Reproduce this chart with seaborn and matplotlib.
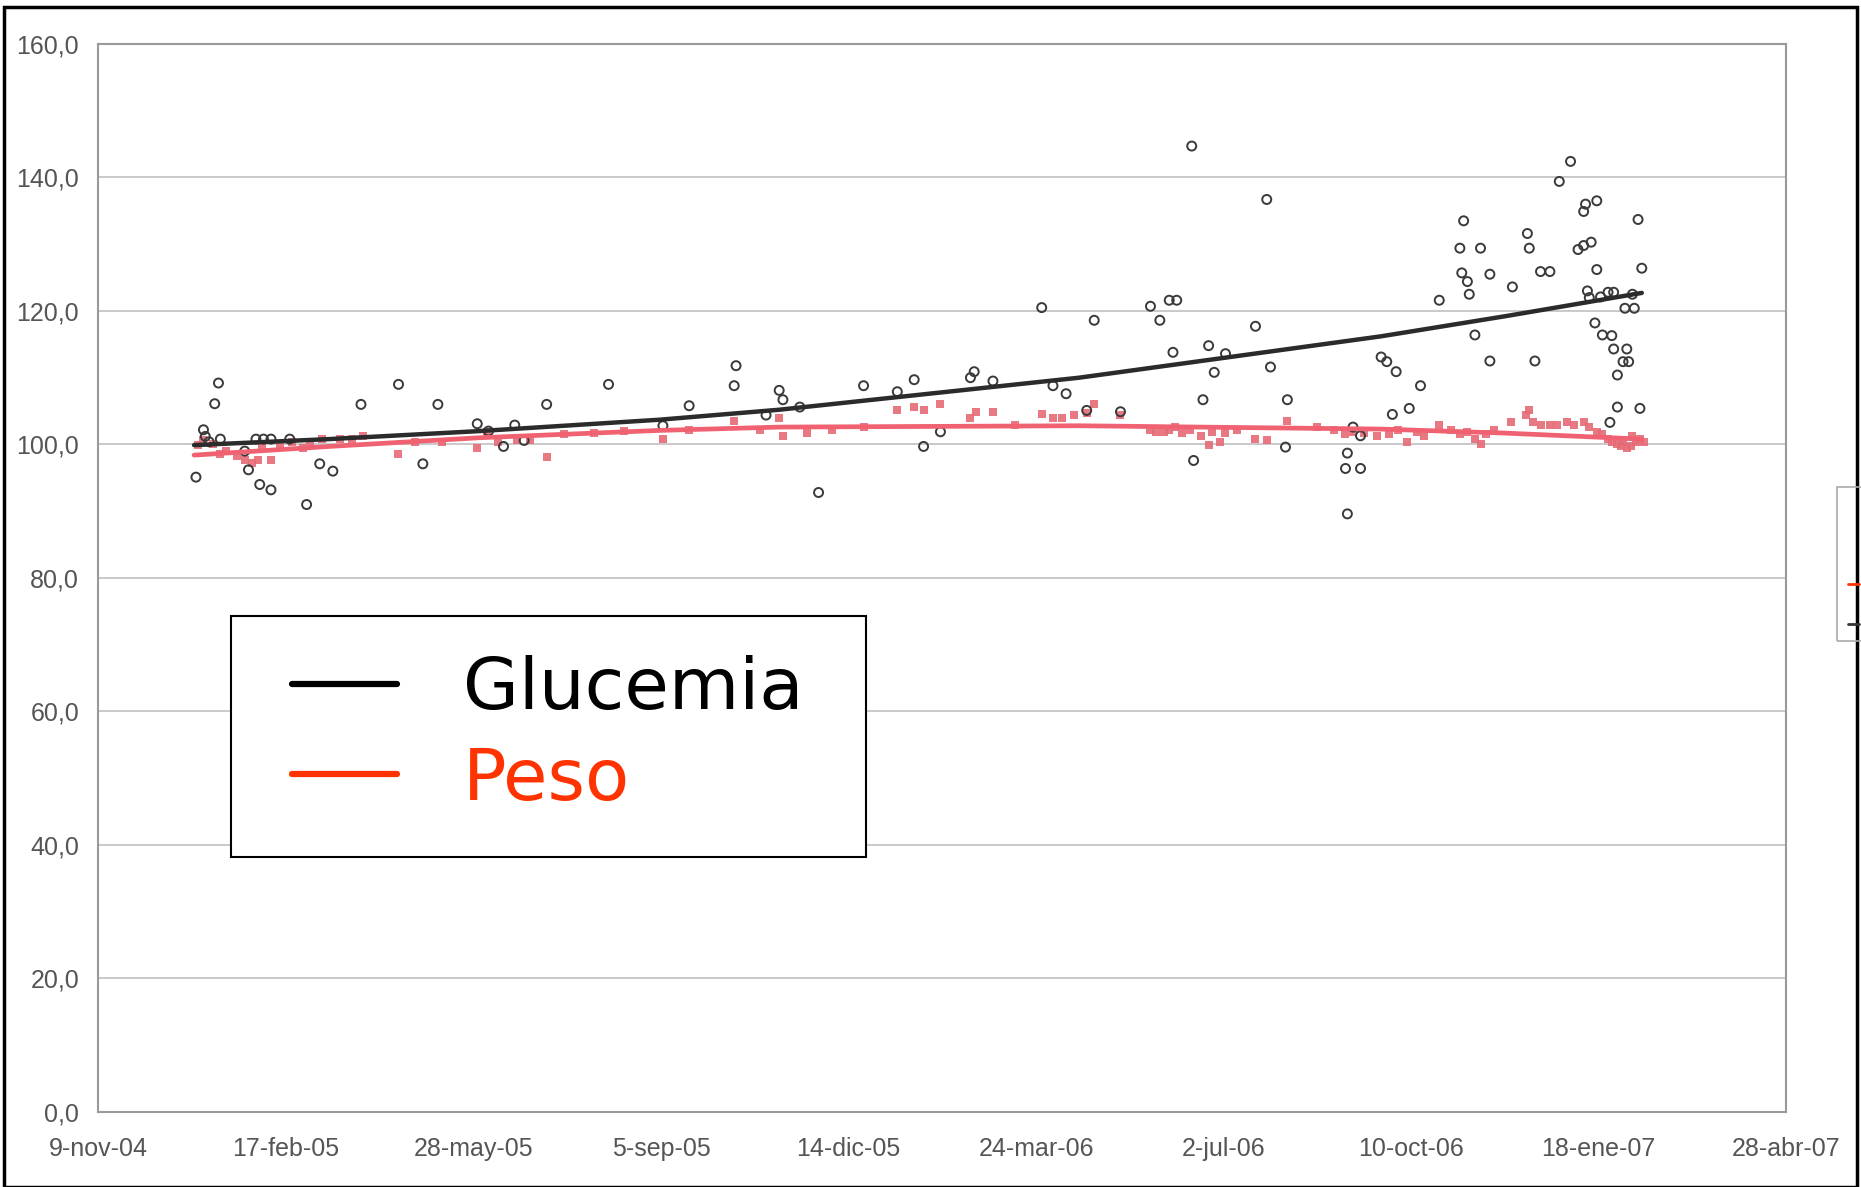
import numpy as np
import pandas as pd
import matplotlib
matplotlib.use("Agg")
import matplotlib.pyplot as plt
import seaborn as sns
from matplotlib.lines import Line2D
from matplotlib.patches import Rectangle

# Fecha de origen del eje (dias contados desde aqui)
origen = pd.Timestamp("2004-11-09")

# Glucemia: dias desde el origen y valor
glu_dias = [52, 56, 57, 59, 62, 64, 65, 78, 80, 84,
            86, 88, 92, 92, 102, 111, 118, 125, 140, 160,
            173, 181, 202, 208, 216, 222, 227, 239, 272, 301,
            315, 339, 340, 356, 363, 365, 374, 384, 408, 426,
            435, 440, 449, 465, 467, 477, 503, 509, 516, 527,
            531, 545, 561, 566, 571, 575, 573, 583, 584, 589,
            592, 595, 601, 617, 623, 625, 633, 634, 666, 666,
            665, 673, 669, 673, 684, 687, 692, 690, 699, 705,
            715, 726, 728, 727, 730, 731, 734, 737, 742, 742,
            754, 762, 763, 766, 769, 774, 779, 785, 792, 793,
            799, 789, 792, 796, 799, 794, 801, 795, 798, 802,
            807, 805, 808, 808, 810, 813, 816, 814, 819, 821,
            823, 822, 818, 810, 806, 815]
glu_valor = [95.1, 102.2, 101.2, 100.4, 106.1, 109.2, 100.8, 99.0, 96.2, 100.8,
             94.0, 100.8, 93.2, 100.8, 100.8, 91.0, 97.1, 96.0, 106.0, 109.0,
             97.1, 106.0, 103.1, 102.0, 99.7, 102.9, 100.6, 106.0, 109.0, 102.8,
             105.8, 108.8, 111.8, 104.4, 108.1, 106.7, 105.6, 92.8, 108.8, 107.9,
             109.7, 99.7, 101.9, 110.0, 110.9, 109.5, 120.5, 108.8, 107.6, 105.1,
             118.6, 104.9, 120.7, 118.6, 121.6, 121.6, 113.8, 144.7, 97.6, 106.7,
             114.8, 110.8, 113.6, 117.7, 136.7, 111.6, 99.6, 106.7, 89.6, 98.7,
             96.4, 96.4, 102.6, 101.3, 113.1, 112.4, 110.9, 104.5, 105.4, 108.8,
             121.6, 129.4, 133.5, 125.7, 124.4, 122.5, 116.4, 129.4, 125.5, 112.5,
             123.6, 131.6, 129.4, 112.5, 125.9, 125.9, 139.4, 142.4, 134.9, 136.0,
             136.5, 129.2, 129.8, 130.3, 126.2, 123.0, 122.1, 122.0, 118.2, 116.4,
             116.3, 122.8, 122.8, 114.3, 110.4, 112.4, 112.4, 120.4, 120.4, 133.7,
             126.4, 105.4, 122.5, 105.6, 103.3, 114.3]

# Peso: dias desde el origen y valor
peso_dias = [53, 56, 61, 65, 68, 74, 78, 82, 85, 92,
             87, 97, 103, 109, 113, 119, 129, 135, 141, 160,
             169, 183, 202, 207, 213, 223, 230, 239, 248, 264,
             280, 301, 315, 339, 353, 363, 365, 378, 391, 408,
             426, 435, 440, 449, 465, 468, 477, 489, 503, 509,
             514, 520, 527, 531, 545, 561, 564, 568, 571, 574,
             578, 582, 588, 592, 594, 598, 601, 607, 617, 623,
             634, 650, 659, 665, 669, 675, 682, 688, 693, 698,
             703, 707, 715, 721, 726, 730, 734, 737, 740, 744,
             753, 761, 763, 765, 769, 774, 778, 783, 787, 792,
             795, 799, 802, 805, 807, 810, 812, 815, 817, 820,
             822, 824, 813, 818]
peso_valor = [99.9, 100.6, 100.1, 98.5, 99.0, 98.3, 97.6, 97.2, 97.6, 97.6,
              99.4, 99.7, 100.4, 99.4, 100.1, 100.8, 100.8, 100.8, 101.2, 98.5,
              100.4, 100.4, 99.4, 101.9, 100.4, 100.6, 100.6, 98.1, 101.5, 101.7,
              102.0, 100.8, 102.2, 103.5, 102.2, 104.0, 101.3, 101.7, 102.2, 102.6,
              105.1, 105.6, 105.1, 106.0, 104.0, 104.9, 104.9, 102.9, 104.5, 104.0,
              104.0, 104.4, 104.7, 106.1, 104.4, 102.2, 101.9, 101.9, 102.2, 102.6,
              101.7, 102.2, 101.2, 99.9, 101.9, 100.4, 101.7, 102.2, 100.8, 100.6,
              103.5, 102.6, 102.2, 101.5, 101.9, 101.7, 101.2, 101.5, 102.2, 100.4,
              101.9, 101.2, 102.9, 102.2, 101.5, 101.9, 100.8, 100.1, 101.5, 102.2,
              103.3, 104.4, 105.1, 103.3, 102.9, 102.9, 102.9, 103.3, 102.9, 103.3,
              102.6, 101.9, 101.5, 100.8, 100.4, 100.1, 99.7, 99.4, 99.7, 100.4,
              100.8, 100.4, 100.4, 101.2]

# Lineas de tendencia
tend_dias = [51, 123, 203, 299, 363, 523, 684, 750, 823]
tend_glu = [99.9, 100.8, 102.0, 103.7, 105.2, 110.0, 116.2, 119.2, 122.7]
tend_peso = [98.4, 99.7, 101.0, 102.1, 102.6, 102.8, 102.3, 101.7, 100.8]

# Ejes
etiquetas_x = ["9-nov-04", "17-feb-05", "28-may-05", "5-sep-05", "14-dic-05",
               "24-mar-06", "2-jul-06", "10-oct-06", "18-ene-07", "28-abr-07"]
valores_y = [0, 20, 40, 60, 80, 100, 120, 140, 160]


def a_fecha(dias):
    return origen + pd.to_timedelta(dias, unit="D")


glu = pd.DataFrame({"fecha": a_fecha(glu_dias), "valor": glu_valor})
peso = pd.DataFrame({"fecha": a_fecha(peso_dias), "valor": peso_valor})
tend = pd.DataFrame({"fecha": a_fecha(tend_dias), "glu": tend_glu, "peso": tend_peso})

sns.set_style("white")
plt.rcParams["font.family"] = ["DejaVu Sans"]

fig = plt.figure(figsize=(18.61, 11.87), dpi=100)
ax = fig.add_axes([0.0529, 0.0632, 0.9069, 0.8998])

# Puntos
sns.scatterplot(data=peso, x="fecha", y="valor", ax=ax, marker="s", s=34,
                color="#e66a76", edgecolor="#e66a76", linewidth=0, alpha=0.9, zorder=3)
sns.scatterplot(data=glu, x="fecha", y="valor", ax=ax, marker="o", s=42,
                facecolor="none", edgecolor="#3a3a3a", linewidth=1.4, zorder=4)

# Tendencias
sns.lineplot(data=tend, x="fecha", y="peso", ax=ax, color="#f06272", linewidth=3.4, zorder=5)
sns.lineplot(data=tend, x="fecha", y="glu", ax=ax, color="#2b2b2b", linewidth=3.2, zorder=6)

# Formato de ejes
ax.set_xlim(origen, a_fecha(900))
ax.set_ylim(0, 160)
ax.set_xticks(a_fecha([100 * i for i in range(len(etiquetas_x))]))
ax.set_xticklabels(etiquetas_x)
ax.set_yticks(valores_y)
ax.set_yticklabels([f"{v:.1f}".replace(".", ",") for v in valores_y])
ax.set_xlabel("")
ax.set_ylabel("")
ax.grid(axis="y", color="#c0c0c0", linewidth=1.2)
ax.grid(axis="x", visible=False)
for lado in ["left", "bottom", "top", "right"]:
    ax.spines[lado].set_color("#9a9a9a")
    ax.spines[lado].set_linewidth(1.5)
ax.tick_params(axis="both", colors="#9a9a9a", labelcolor="#555555",
               labelsize=18, length=6, width=1.2, direction="out")
ax.tick_params(axis="x", pad=12)
ax.tick_params(axis="y", pad=8)
for t in ax.get_xticklabels() + ax.get_yticklabels():
    t.set_fontfamily(["Liberation Sans Narrow", "Liberation Sans"])

# Leyenda: caja dibujada aparte para controlar los margenes
ax.add_patch(Rectangle((0.0785, 0.2388), 0.3763, 0.2256, transform=ax.transAxes,
                       facecolor="white", edgecolor="black", linewidth=1.5, zorder=7))
manejadores = [Line2D([0], [0], color="black", linewidth=4.5),
               Line2D([0], [0], color="#ff3300", linewidth=4.5)]
leg = ax.legend(manejadores, ["Glucemia", "Peso"], loc="upper left",
                bbox_to_anchor=(0.1147, 0.4279), fontsize=52, frameon=False,
                handlelength=1.45, handletextpad=0.92, labelspacing=0.3,
                borderpad=0, borderaxespad=0)
leg.set_zorder(8)
leg.get_texts()[0].set_color("black")
leg.get_texts()[1].set_color("#ff3300")

# Marco exterior y resto de leyenda recortada a la derecha
fig.patches.append(Rectangle((0.002, 0.0), 0.996, 0.994, transform=fig.transFigure,
                             fill=False, edgecolor="black", linewidth=2.5))
fig.patches.append(Rectangle((0.987, 0.46), 0.02, 0.13, transform=fig.transFigure,
                             fill=False, edgecolor="#aaaaaa", linewidth=1.2))
fig.lines.append(Line2D([0.993, 0.999], [0.508, 0.508], transform=fig.transFigure,
                        color="#ff3300", linewidth=2))
fig.lines.append(Line2D([0.993, 0.999], [0.474, 0.474], transform=fig.transFigure,
                        color="#333333", linewidth=2))

fig.savefig("out.png", dpi=100, facecolor="white")
